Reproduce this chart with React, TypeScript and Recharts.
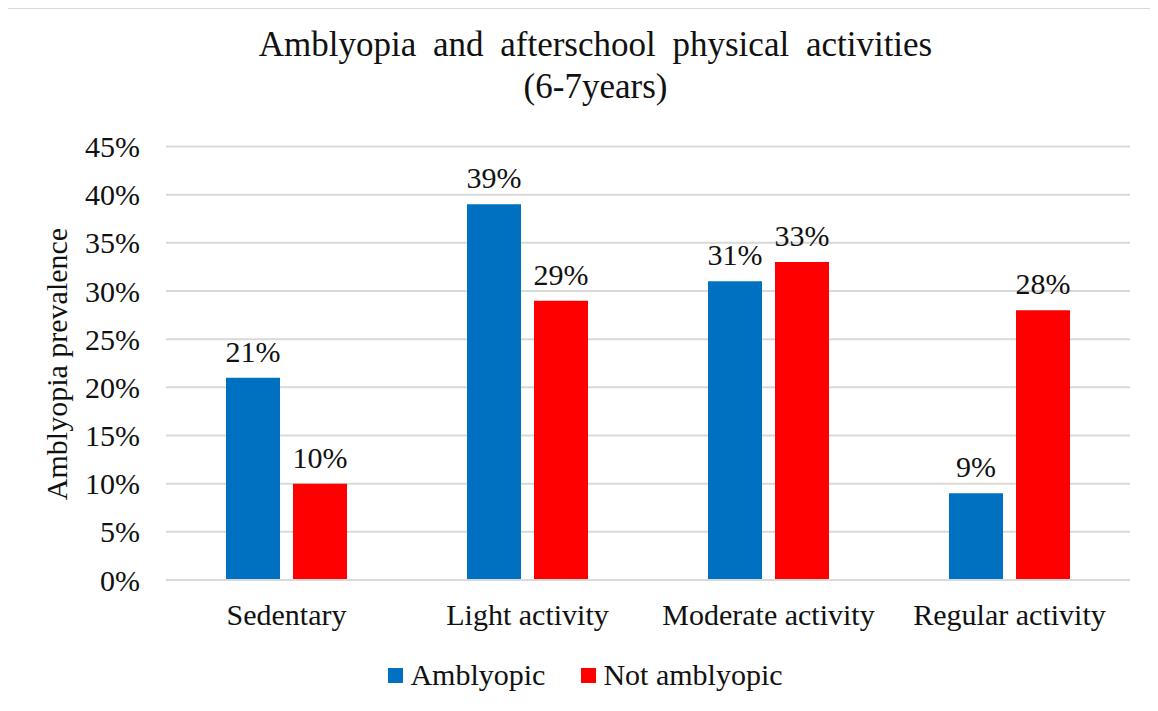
import { BarChart, Bar, XAxis, YAxis, CartesianGrid, LabelList } from "recharts";

const categories = ["Sedentary", "Light activity", "Moderate activity", "Regular activity"];
const amblyopic = [21, 39, 31, 9];
const notAmblyopic = [10, 29, 33, 28];
const yTicks = [0, 5, 10, 15, 20, 25, 30, 35, 40, 45];

const SERIES = [
  { key: "amblyopic", name: "Amblyopic", color: "#0070C0" },
  { key: "notAmblyopic", name: "Not amblyopic", color: "#FF0000" },
];

const data = categories.map((name, i) => ({
  name,
  amblyopic: amblyopic[i],
  notAmblyopic: notAmblyopic[i],
}));

const FONT = "Liberation Serif, Times New Roman, serif";
const INK = "#111";

export default function App() {
  return (
    <div
      style={{
        position: "relative",
        width: 1147,
        height: 697,
        marginLeft: -2,
        marginTop: -1,
        border: "2px solid #d9d9d9",
        borderBottom: "none",
        background: "#fff",
        fontFamily: FONT,
        color: INK,
      }}
    >
      <div
        style={{
          position: "absolute",
          top: 15,
          left: 0,
          width: "100%",
          paddingLeft: 28,
          boxSizing: "border-box",
          textAlign: "center",
          fontSize: 35,
          lineHeight: "42px",
          wordSpacing: 8,
        }}
      >
        <div>Amblyopia and afterschool physical activities</div>
        <div>(6-7years)</div>
      </div>

      <div
        style={{
          position: "absolute",
          left: 49 - 150,
          top: 355 - 20,
          width: 300,
          height: 40,
          lineHeight: "40px",
          textAlign: "center",
          fontSize: 30,
          transform: "rotate(-90deg)",
          whiteSpace: "nowrap",
        }}
      >
        Amblyopia prevalence
      </div>

      <BarChart
        width={1147}
        height={695}
        data={data}
        margin={{ top: 137.5, right: 25, bottom: 0, left: 0 }}
        barSize={54}
        barGap={13}
      >
        <CartesianGrid vertical={false} stroke="#d9d9d9" strokeWidth={2} />
        <XAxis
          dataKey="name"
          height={124}
          tickLine={false}
          tickSize={0}
          tickMargin={24}
          axisLine={{ stroke: "#d9d9d9", strokeWidth: 2 }}
          tick={{ fontSize: 30, fontFamily: FONT, fill: INK }}
          interval={0}
        />
        <YAxis
          width={158}
          domain={[0, 45]}
          ticks={yTicks}
          tickFormatter={(v) => `${v}%`}
          axisLine={false}
          tickLine={false}
          tickSize={0}
          tickMargin={26}
          tick={{ fontSize: 30, fontFamily: FONT, fill: INK }}
        />
        {SERIES.map((s) => (
          <Bar key={s.key} dataKey={s.key} name={s.name} fill={s.color} isAnimationActive={false}>
            <LabelList
              dataKey={s.key}
              position="top"
              offset={16}
              formatter={(v) => `${v}%`}
              style={{ fontSize: 30, fontFamily: FONT, fill: INK }}
            />
          </Bar>
        ))}
      </BarChart>

      <div
        style={{
          position: "absolute",
          top: 649,
          left: 0,
          width: "100%",
          paddingLeft: 8,
          boxSizing: "border-box",
          display: "flex",
          justifyContent: "center",
          alignItems: "center",
          gap: 36,
          fontSize: 30,
          lineHeight: "34px",
        }}
      >
        {SERIES.map((s) => (
          <div key={s.key} style={{ display: "flex", alignItems: "center", gap: 7 }}>
            <span style={{ width: 15, height: 15, background: s.color, display: "inline-block" }} />
            <span>{s.name}</span>
          </div>
        ))}
      </div>
    </div>
  );
}
